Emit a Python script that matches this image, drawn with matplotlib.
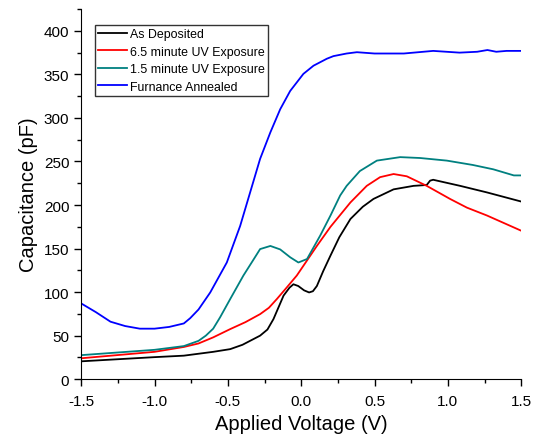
import matplotlib
matplotlib.use('Agg')
import matplotlib.pyplot as plt
from matplotlib.ticker import MultipleLocator, FormatStrFormatter

plt.rcParams['font.family'] = ['Liberation Sans', 'DejaVu Sans']

# As Deposited
v_dep = [-1.5, -1.0, -0.8, -0.6, -0.484, -0.4, -0.28, -0.23, -0.189, -0.12, -0.08, -0.053,
         -0.02, 0.02, 0.054, 0.08, 0.107, 0.15, 0.2, 0.26, 0.336, 0.42, 0.493, 0.63, 0.766,
         0.856, 0.879, 0.9, 1.084, 1.266, 1.5]
c_dep = [20.5, 25.3, 27, 31.4, 34.5, 39.5, 50, 57, 69, 96, 105, 109,
         107, 102, 99.6, 101, 107, 124, 142, 163, 184, 198, 207, 218, 222,
         223, 228, 229, 222, 214.5, 204]

# 6.5 minute UV Exposure
v_65 = [-1.5, -1.0, -0.8, -0.7, -0.6, -0.484, -0.38, -0.28, -0.22, -0.166, -0.1, -0.03,
        0.107, 0.2, 0.336, 0.447, 0.538, 0.63, 0.72, 0.856, 1.015, 1.13, 1.266, 1.5]
c_65 = [24, 31.4, 37, 41, 48, 57.5, 65.5, 74.7, 82, 92, 105, 119,
        153, 175, 203, 222, 232, 235.6, 233, 222, 207, 197, 188, 170.5]

# 1.5 minute UV Exposure
v_15 = [-1.5, -1.0, -0.8, -0.7, -0.65, -0.6, -0.553, -0.484, -0.394, -0.33, -0.28,
        -0.21, -0.143, -0.075, -0.019, 0.04, 0.13, 0.2, 0.266, 0.31, 0.40, 0.516,
        0.675, 0.81, 0.993, 1.17, 1.31, 1.45, 1.5]
c_15 = [27.6, 33.7, 38, 44, 50, 58, 71, 92, 119, 136, 149.4,
        153, 149, 140, 134, 138, 165, 188, 211, 222, 239, 251,
        255, 254, 251, 246, 241, 234, 234]

# Furnance Annealed
v_fa = [-1.5, -1.4, -1.3, -1.2, -1.1, -1.0, -0.9, -0.8, -0.757, -0.7, -0.62, -0.507,
        -0.416, -0.348, -0.28, -0.21, -0.143, -0.075, 0.015, 0.084, 0.175, 0.22, 0.31,
        0.38, 0.5, 0.7, 0.9, 1.08, 1.2, 1.27, 1.33, 1.4, 1.5]
c_fa = [87, 77, 66, 61, 58, 58, 60, 64, 70, 80, 99.6, 134,
        176, 214.5, 253, 283.5, 310, 331, 350.6, 360, 368, 371, 374,
        375.5, 374, 374, 377, 375, 376, 378, 376, 377, 377]

fig, ax = plt.subplots(figsize=(5.34, 4.39), dpi=100)
fig.subplots_adjust(left=0.152, right=0.976, bottom=0.134, top=0.977)

ax.plot(v_dep, c_dep, color='black', lw=1.3, label='As Deposited')
ax.plot(v_65, c_65, color='red', lw=1.3, label='6.5 minute UV Exposure')
ax.plot(v_15, c_15, color='#008080', lw=1.3, label='1.5 minute UV Exposure')
ax.plot(v_fa, c_fa, color='blue', lw=1.3, label='Furnance Annealed')

ax.set_xlim(-1.5, 1.5)
ax.set_ylim(0, 425)
ax.xaxis.set_major_locator(MultipleLocator(0.5))
ax.xaxis.set_minor_locator(MultipleLocator(0.25))
ax.yaxis.set_major_locator(MultipleLocator(50))
ax.yaxis.set_minor_locator(MultipleLocator(25))
ax.xaxis.set_major_formatter(FormatStrFormatter('%.1f'))
ax.tick_params(which='major', length=5, width=1, labelsize=11)
ax.tick_params(which='minor', length=2.7, width=1)
ax.tick_params(axis='x', pad=6)

for s in ['top', 'right']:
    ax.spines[s].set_visible(False)

ax.set_xlabel('Applied Voltage (V)', fontsize=14.5)
ax.set_ylabel('Capacitance (pF)', fontsize=14.5)

leg = ax.legend(loc='upper left', bbox_to_anchor=(0.032, 0.957), fontsize=8.9,
                frameon=True, fancybox=False, edgecolor='black', handlelength=2.3,
                borderpad=0.25, labelspacing=0.45, handletextpad=0.25, borderaxespad=0,
                handleheight=0.7)
leg.get_frame().set_linewidth(1)

fig.savefig('out.png', dpi=100)
